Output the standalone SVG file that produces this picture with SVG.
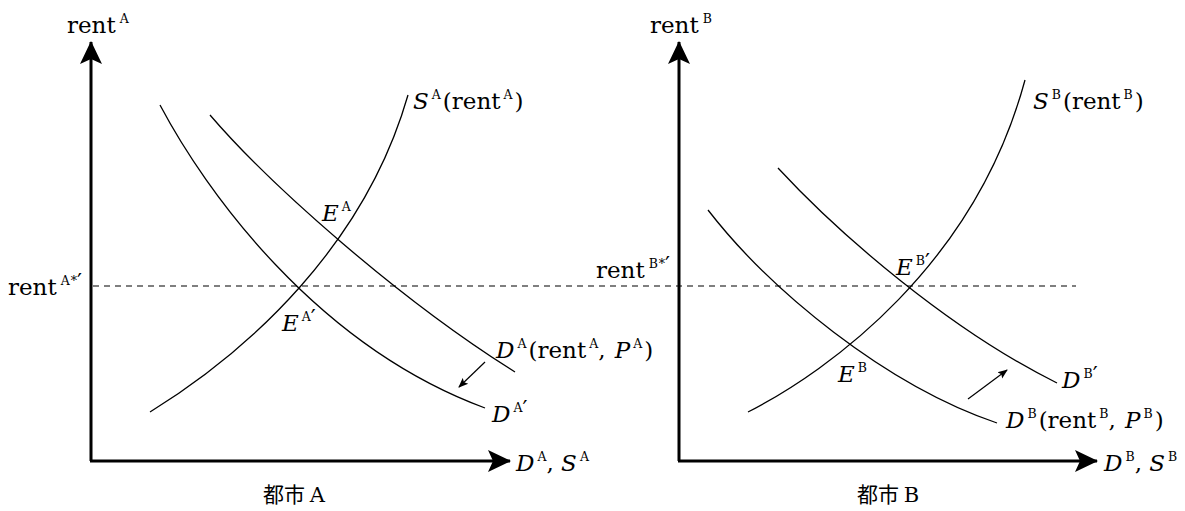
<svg xmlns="http://www.w3.org/2000/svg" width="1185" height="511" viewBox="0 0 1185 511">
<defs>
<style>
text{font-family:"DejaVu Serif","Liberation Serif",serif;font-size:23px;fill:#000}
.i{font-style:italic}
.s{font-size:12.5px;font-style:normal}
.p{font-size:22px;font-style:normal}
.cj{font-family:"Noto Sans CJK JP",sans-serif;font-size:21px}
.lt{font-family:"DejaVu Serif","Liberation Serif",serif}
.ax{stroke:#000;stroke-width:3;fill:none}
.cv{stroke:#000;stroke-width:1.3;fill:none}
.ds{stroke:#000;stroke-width:1.1;stroke-dasharray:6,5;fill:none}
.sh{stroke:#000;stroke-width:1.2;fill:none}
</style>
<marker id="bigv" markerWidth="24" markerHeight="24" refX="22" refY="12" orient="auto" markerUnits="userSpaceOnUse" viewBox="0 0 24 24">
<path d="M0,1 L23,12 L0,23 L5,12 Z" fill="#000"/>
</marker>
<marker id="sm" markerWidth="10" markerHeight="10" refX="9" refY="5" orient="auto" markerUnits="userSpaceOnUse" viewBox="0 0 10 10">
<path d="M0,1 L10,5 L0,9 L2,5 Z" fill="#000"/>
</marker>
</defs>

<g id="axes">
<line class="ax" x1="91" y1="461" x2="91" y2="42" marker-end="url(#bigv)"/>
<line class="ax" x1="90" y1="461" x2="510" y2="461" marker-end="url(#bigv)"/>
<line class="ax" x1="679" y1="461" x2="679" y2="42" marker-end="url(#bigv)"/>
<line class="ax" x1="678" y1="461" x2="1097" y2="461" marker-end="url(#bigv)"/>
</g>

<g id="connectors">
<line class="ds" x1="93" y1="286" x2="1076" y2="286"/>
<line class="sh" x1="485" y1="362" x2="459" y2="387" marker-end="url(#sm)"/>
<line class="sh" x1="968" y1="399" x2="1007" y2="370" marker-end="url(#sm)"/>
</g>

<g id="curves-A">
<path class="cv" d="M150,412 C250,350 365,245 408,95"/>
<path class="cv" d="M210,115 C270,185 400,300 515,372"/>
<path class="cv" d="M160,105 C205,190 315,345 485,408"/>
</g>

<g id="curves-B">
<path class="cv" d="M748,412 C830,370 975,265 1025,80"/>
<path class="cv" d="M708,210 C770,290 885,385 997,423"/>
<path class="cv" d="M778,168 C840,235 950,330 1057,383"/>
</g>

<g id="labels-A">
<text x="67" y="33">rent<tspan class="s" dx="4" dy="-10">A</tspan></text>
<text x="8" y="295">rent<tspan class="s" dx="4" dy="-10">A</tspan><tspan class="s" dx="1">*</tspan><tspan class="p" dy="4">′</tspan></text>
<text x="413" y="109"><tspan class="i">S</tspan><tspan class="s" dx="3" dy="-10">A</tspan><tspan dx="2" dy="10">(rent</tspan><tspan class="s" dx="3" dy="-10">A</tspan><tspan dx="2" dy="10">)</tspan></text>
<text class="i" x="322" y="221">E<tspan class="s" dx="3" dy="-10">A</tspan></text>
<text class="i" x="282" y="331">E<tspan class="s" dx="3" dy="-10">A</tspan><tspan class="p" dy="4">′</tspan></text>
<text x="496" y="358"><tspan class="i">D</tspan><tspan class="s" dx="3" dy="-10">A</tspan><tspan dx="2" dy="10">(rent</tspan><tspan class="s" dx="3" dy="-10">A</tspan><tspan dy="10">, </tspan><tspan class="i" dx="2">P</tspan><tspan class="s" dx="3" dy="-10">A</tspan><tspan dx="2" dy="10">)</tspan></text>
<text class="i" x="492" y="422">D<tspan class="s" dx="3" dy="-10">A</tspan><tspan class="p" dy="4">′</tspan></text>
<text x="516" y="471"><tspan class="i">D</tspan><tspan class="s" dx="3" dy="-10">A</tspan><tspan dy="10">, </tspan><tspan class="i">S</tspan><tspan class="s" dx="3" dy="-10">A</tspan></text>
<text class="cj" x="263" y="502">都市 <tspan class="lt">A</tspan></text>
</g>

<g id="labels-B">
<text x="650" y="33">rent<tspan class="s" dx="4" dy="-10">B</tspan></text>
<text x="596" y="278">rent<tspan class="s" dx="4" dy="-10">B</tspan><tspan class="s" dx="1">*</tspan><tspan class="p" dy="4">′</tspan></text>
<text x="1033" y="109"><tspan class="i">S</tspan><tspan class="s" dx="3" dy="-10">B</tspan><tspan dx="2" dy="10">(rent</tspan><tspan class="s" dx="3" dy="-10">B</tspan><tspan dx="2" dy="10">)</tspan></text>
<text class="i" x="896" y="275">E<tspan class="s" dx="3" dy="-10">B</tspan><tspan class="p" dy="4">′</tspan></text>
<text class="i" x="838" y="382">E<tspan class="s" dx="3" dy="-10">B</tspan></text>
<text class="i" x="1062" y="388">D<tspan class="s" dx="3" dy="-10">B</tspan><tspan class="p" dy="4">′</tspan></text>
<text x="1006" y="428"><tspan class="i">D</tspan><tspan class="s" dx="3" dy="-10">B</tspan><tspan dx="2" dy="10">(rent</tspan><tspan class="s" dx="3" dy="-10">B</tspan><tspan dy="10">, </tspan><tspan class="i" dx="2">P</tspan><tspan class="s" dx="3" dy="-10">B</tspan><tspan dx="2" dy="10">)</tspan></text>
<text x="1104" y="471"><tspan class="i">D</tspan><tspan class="s" dx="3" dy="-10">B</tspan><tspan dy="10">, </tspan><tspan class="i">S</tspan><tspan class="s" dx="3" dy="-10">B</tspan></text>
<text class="cj" x="857" y="502">都市 <tspan class="lt">B</tspan></text>
</g>
</svg>
